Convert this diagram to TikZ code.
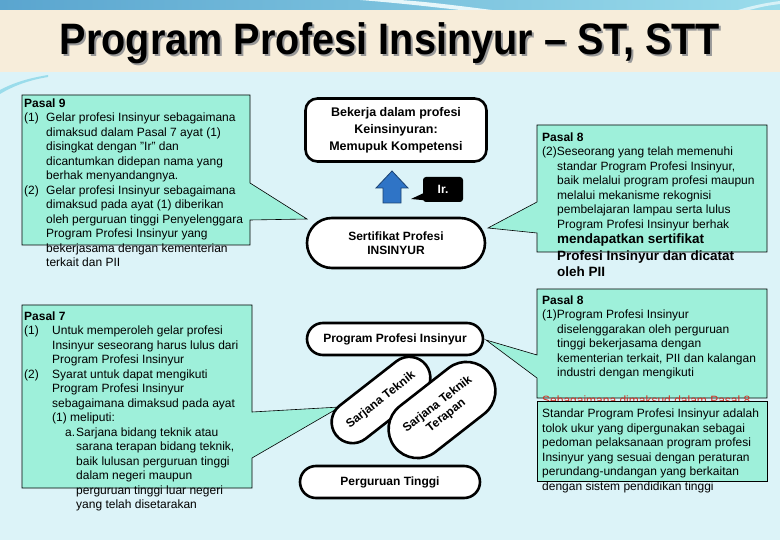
\documentclass[tikz,border=0pt]{standalone}
\usepackage{fontspec}
\setmainfont{Liberation Sans}
\usetikzlibrary{shapes.misc}

\definecolor{bgcyan}{HTML}{DCF3F8}
\definecolor{bandbeige}{HTML}{F7EDDA}
\definecolor{calloutgreen}{HTML}{9EF0DA}
\definecolor{arrowblue}{HTML}{2F74C6}
\definecolor{arrowline}{HTML}{1B4272}
\definecolor{topblue}{HTML}{5AA5CF}
\definecolor{toplight}{HTML}{9ADCEB}
\definecolor{notered}{HTML}{D03020}

\tikzset{
  callout/.style={fill=calloutgreen, draw=black, line width=0.6pt},
  pasal/.style={anchor=north west, inner sep=0pt, align=left,
    font=\fontsize{12}{14.5}\selectfont},
  card/.style={draw=black, line width=2.6pt, fill=white, rounded corners=12pt,
    align=center, inner sep=2pt, font=\fontsize{12.5}{17}\selectfont\bfseries},
  pill/.style={draw=black, line width=2.6pt, fill=white, rounded rectangle,
    align=center, inner sep=2pt, font=\fontsize{12}{14}\selectfont\bfseries},
  titletext/.style={font=\fontsize{44}{44}\selectfont\bfseries},
}

\newcommand{\lbl}[2]{\makebox[#1][l]{#2}}

\begin{document}
\begin{tikzpicture}[x=1pt,y=-1pt]
        \useasboundingbox (0,0) rectangle (780,540);
        \fill[bgcyan] (0,0) rectangle (780,540);

        % top strip and title band
        \shade[left color=topblue, right color=toplight] (0,0) rectangle (780,10);
        \fill[white!75!toplight] (360,0) .. controls (410,4) and (440,8) .. (470,11)
            -- (500,11) .. controls (460,6) and (430,2) .. (400,0) -- cycle;
        \fill[white!60!toplight] (735,11) .. controls (750,6) and (765,3) .. (780,1)
            -- (780,4) .. controls (765,6) .. (745,11) -- cycle;
        \fill[bandbeige] (0,10) rectangle (780,72);
        \fill[toplight] (0,90) .. controls (15,82) and (30,78) .. (48,75)
            -- (48,77) .. controls (30,80) and (15,85) .. (0,94) -- cycle;

        \node[titletext, text=black!40] (titleshadow) at (392,45) {\scalebox{0.9}[1]{Program Profesi Insinyur – ST, STT}};
        \node[titletext] (title) at (390,43) {\scalebox{0.9}[1]{Program Profesi Insinyur – ST, STT}};

        % callouts
        \draw[callout] (22,95) -- (250,95) -- (250,183) -- (307,219) -- (250,220)
            -- (250,245) -- (22,245) -- cycle;
        \draw[callout] (22,305) -- (252,305) -- (252,412) -- (340,407) -- (252,458)
            -- (252,488) -- (22,488) -- cycle;
        \draw[callout] (537,125) -- (767,125) -- (767,252) -- (537,252) -- (537,233)
            -- (488,228) -- (537,202) -- cycle;
        \draw[callout] (537,289) -- (767,289) -- (767,398) -- (537,398) -- (537,378)
            -- (486,340) -- (537,355) -- cycle;

        \node[pasal] (pasal9) at (24,98.5) {\textbf{Pasal 9}\\
            \lbl{22pt}{(1)}Gelar profesi Insinyur sebagaimana\\
            \hspace*{22pt}dimaksud dalam Pasal 7 ayat (1)\\
            \hspace*{22pt}disingkat dengan "Ir" dan\\
            \hspace*{22pt}dicantumkan didepan nama yang\\
            \hspace*{22pt}berhak menyandangnya.\\
            \lbl{22pt}{(2)}Gelar profesi Insinyur sebagaimana\\
            \hspace*{22pt}dimaksud pada ayat (1) diberikan\\
            \hspace*{22pt}oleh perguruan tinggi Penyelenggara\\
            \hspace*{22pt}Program Profesi Insinyur yang\\
            \hspace*{22pt}bekerjasama dengan kementerian\\
            \hspace*{22pt}terkait dan PII};

        \node[pasal] (pasal7) at (24,311.5) {\textbf{Pasal 7}\\
            \lbl{28pt}{(1)}Untuk memperoleh gelar profesi\\
            \hspace*{28pt}Insinyur seseorang harus lulus dari\\
            \hspace*{28pt}Program Profesi Insinyur\\
            \lbl{28pt}{(2)}Syarat untuk dapat mengikuti\\
            \hspace*{28pt}Program Profesi Insinyur\\
            \hspace*{28pt}sebagaimana dimaksud pada ayat\\
            \hspace*{28pt}(1) meliputi:\\
            \hspace*{41pt}\lbl{11pt}{a.}Sarjana bidang teknik atau\\
            \hspace*{52pt}sarana terapan bidang teknik,\\
            \hspace*{52pt}baik lulusan perguruan tinggi\\
            \hspace*{52pt}dalam negeri maupun\\
            \hspace*{52pt}perguruan tinggi luar negeri\\
            \hspace*{52pt}yang telah disetarakan};

        \node[pasal] (pasal8b) at (542,132.5) {\textbf{Pasal 8}\\
            (2)Seseorang yang telah memenuhi\\
            \hspace*{15pt}standar Program Profesi Insinyur,\\
            \hspace*{15pt}baik melalui program profesi maupun\\
            \hspace*{15pt}melalui mekanisme rekognisi\\
            \hspace*{15pt}pembelajaran lampau serta lulus\\
            \hspace*{15pt}Program Profesi Insinyur berhak};
        \node[pasal, font=\fontsize{13.5}{16.5}\selectfont\bfseries] (pasal8bold) at (557,234) {mendapatkan sertifikat\\
            Profesi Insinyur dan dicatat\\
            oleh PII};

        \node[pasal] (pasal8a) at (542,295.5) {\textbf{Pasal 8}\\
            (1)Program Profesi Insinyur\\
            \hspace*{15pt}diselenggarakan oleh perguruan\\
            \hspace*{15pt}tinggi bekerjasama dengan\\
            \hspace*{15pt}kementerian terkait, PII dan kalangan\\
            \hspace*{15pt}industri dengan mengikuti};
        \node[pasal, text=notered] (note) at (542,395.5) {\underline{Sebagaimana dimaksud dalam Pasal 8}};

        \draw[callout] (537,401) rectangle (767,481);
        \node[pasal] (standar) at (542,409) {Standar Program Profesi Insinyur adalah\\
            tolok ukur yang dipergunakan sebagai\\
            pedoman pelaksanaan program profesi\\
            Insinyur yang sesuai dengan peraturan\\
            perundang-undangan yang berkaitan\\
            dengan sistem pendidikan tinggi};

        % middle column
        \node[card, minimum width=181pt, minimum height=63pt] (kerja) at (396,130) {Bekerja dalam profesi\\Keinsinyuran:\\Memupuk Kompetensi};
        \fill[arrowblue, draw=arrowline, line width=0.8pt] (392,171) -- (408,188) -- (401,188) -- (401,203)
            -- (383,203) -- (383,188) -- (376,188) -- cycle;
        \fill[black] (426,192) -- (411,199) -- (432,201) -- cycle;
        \node[fill=black, text=white, rounded corners=3pt, minimum width=40pt, minimum height=25pt,
            font=\fontsize{12}{12}\selectfont\bfseries] (ir) at (443,189.5) {Ir.};
        \node[pill, minimum width=182pt, minimum height=50pt] (sertifikat) at (396,243) {Sertifikat Profesi\\INSINYUR};
        \node[pill, minimum width=180pt, minimum height=32pt] (program) at (395,339) {Program Profesi Insinyur};
        \node[pill, minimum width=118pt, minimum height=42pt, rotate=38] (teknik) at (381,400) {Sarjana Teknik};
        \node[pill, minimum width=124pt, minimum height=58pt, rotate=38] (terapan) at (442,410) {Sarjana Teknik\\Terapan};
        \node[pill, minimum width=184pt, minimum height=32pt] (pt) at (390,482) {Perguruan Tinggi};

    \end{tikzpicture}
\end{document}
